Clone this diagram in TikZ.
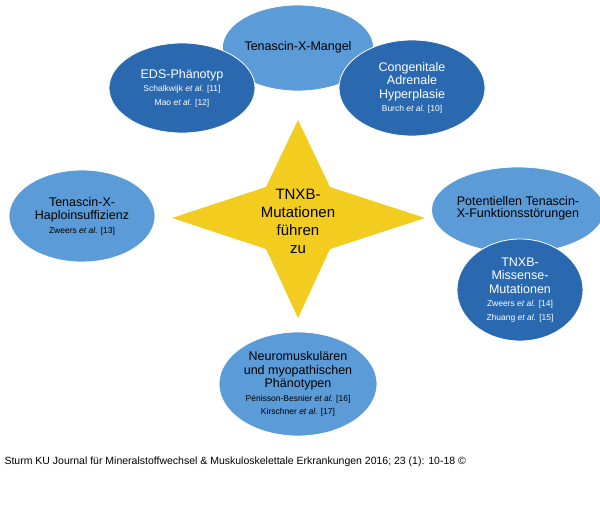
\documentclass[tikz,border=0pt]{standalone}
\usepackage{fontspec}
\setmainfont{Liberation Sans}
\usetikzlibrary{shapes.geometric}
\begin{document}
\begin{tikzpicture}[x=1pt,y=-1pt,
  every node/.style={font=\fontsize{12.5}{13.5}\selectfont},
  light/.style={ellipse,fill=lightblue,draw=white,line width=0.8pt,align=center,inner sep=0pt},
  dark/.style={ellipse,fill=darkblue,draw=white,line width=0.8pt,align=center,text=white,inner sep=0pt}]
\definecolor{lightblue}{HTML}{5A9BD8}
\definecolor{darkblue}{HTML}{2A69B0}
\definecolor{staryellow}{HTML}{F2CC1F}
\newcommand{\refs}[1]{{\fontsize{8.5}{9.5}\selectfont #1}}
\useasboundingbox (0,0) rectangle (600,511);
% Ellipsen oben
\node[light,minimum width=146,minimum height=86] (mangel) at (298,48)
  {\raisebox{4pt}{Tenascin-X-Mangel}};
\node[dark,minimum width=146,minimum height=90] (eds) at (182,88)
  {EDS-Phänotyp\\\refs{Schalkwijk \textit{et al.} [11]}\\\refs{Mao \textit{et al.} [12]}};
\node[dark,minimum width=146,minimum height=96] (cah) at (412,88)
  {Congenitale\\Adrenale\\Hyperplasie\\\refs{Burch \textit{et al.} [10]}};
% links / rechts
\node[light,minimum width=146,minimum height=92] (haplo) at (82,216)
  {Tenascin-X-\\Haploinsuffizienz\\\refs{Zweers \textit{et al.} [13]}};
\node[light,minimum width=158,minimum height=86] (pot) at (518,210)
  {\raisebox{6pt}{\shortstack{Potentiellen Tenascin-\\X-Funktionsstörungen}}};
\node[dark,minimum width=126,minimum height=102] (miss) at (520,290)
  {TNXB-\\Missense-\\Mutationen\\\refs{Zweers \textit{et al.} [14]}\\\refs{Zhuang \textit{et al.} [15]}};
% unten
\node[light,minimum width=158,minimum height=104] (neuro) at (298,384)
  {Neuromuskulären\\und myopathischen\\Phänotypen\\\refs{Pénisson-Besnier \textit{et al.} [16]}\\\refs{Kirschner \textit{et al.} [17]}};
% Stern
\fill[staryellow] (298,120) -- (330,187) -- (425,218) -- (330,249) -- (298,318)
  -- (266,249) -- (172,218) -- (266,187) -- cycle;
\node[align=center,font=\fontsize{15}{18}\selectfont] (tnxb) at (298,221)
  {TNXB-\\Mutationen\\führen\\zu};
\node[anchor=west,font=\fontsize{10.5}{12}\selectfont] (cap) at (1,462)
  {Sturm KU Journal für Mineralstoffwechsel \& Muskuloskelettale Erkrankungen 2016; 23 (1): 10-18 ©};
\end{tikzpicture}
\end{document}
